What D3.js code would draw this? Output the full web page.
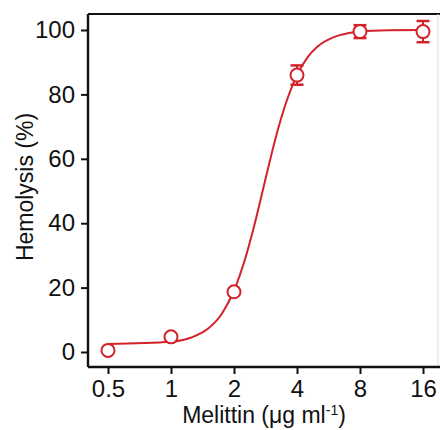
<!DOCTYPE html>
<meta charset="utf-8">
<script src="https://d3js.org/d3.v7.min.js"></script>
<head>
  <style>
  body {
    margin: 0;
    background: #fff;
    font-family: "Liberation Sans", Arial, Helvetica, sans-serif;
  }
  </style>
</head>
<html><body>
<div id="viz"></div>
<script>

const conc = [0.5, 1, 2, 4, 8, 16];
const hemolysis = [0.5, 4.7, 18.7, 86, 99.5, 99.5];
const errs = [0, 0, 0, 3, 2, 3.3];

const fitConc = [0.5, 1, 1.25, 1.5, 1.75, 2, 2.25, 2.5, 2.75, 3, 3.25, 3.5, 4, 4.5, 5, 6, 7, 8, 11, 16];
const fitVal  = [2.5, 3.2, 4.5, 7.2, 11.9, 19.1, 28.5, 39.3, 50.4, 60.6, 69.3, 76.3, 86.0, 91.6, 94.8, 97.8, 99.0, 99.5, 99.9, 100];

const xTicks = [0.5, 1, 2, 4, 8, 16];
const yTicks = [0, 20, 40, 60, 80, 100];

const red = "#d3222a";

const svg = d3.select("#viz")
  .append("svg")
    .attr("width", 440)
    .attr("height", 430);

// set the scales
const x = d3.scaleLog().base(2)
  .domain([0.5, 16])
  .range([108, 423]);

const y = d3.scaleLinear()
  .domain([0, 100])
  .range([352, 30]);

const frame = {left: 88, bottom: 367, top: 14, right: 438};

// frame
svg.append("line")
  .attr("x1", frame.left).attr("x2", 440)
  .attr("y1", frame.top).attr("y2", frame.top)
  .attr("stroke", "#111").attr("stroke-width", 2);
svg.append("line")
  .attr("x1", frame.right).attr("x2", frame.right)
  .attr("y1", frame.top).attr("y2", frame.bottom)
  .attr("stroke", "#ddd").attr("stroke-width", 1);

// Y axis
const yAxis = svg.append("g")
  .attr("transform", `translate(${frame.left}, 0)`)
  .call(d3.axisLeft(y).tickValues(yTicks).tickSize(7).tickPadding(6).tickSizeOuter(0));
yAxis.select(".domain").attr("d", `M0,${frame.top}V${frame.bottom}`);

// X axis
const xAxis = svg.append("g")
  .attr("transform", `translate(0, ${frame.bottom})`)
  .call(d3.axisBottom(x).tickValues(xTicks).tickFormat(d => d).tickSize(7).tickPadding(6).tickSizeOuter(0));
xAxis.select(".domain").attr("d", `M${frame.left},0H440`);

svg.selectAll(".domain").attr("stroke", "#111").attr("stroke-width", 2.4);
svg.selectAll(".tick line").attr("stroke", "#111").attr("stroke-width", 2);
svg.selectAll(".tick text")
  .attr("fill", "#111")
  .style("font-size", "24px")
  .style("font-family", "'Liberation Sans', Arial, sans-serif");

// fitted curve
svg.append("path")
  .datum(d3.zip(fitConc, fitVal))
  .attr("fill", "none")
  .attr("stroke", red)
  .attr("stroke-width", 2)
  .attr("d", d3.line()
    .x(d => x(d[0]))
    .y(d => y(d[1]))
    .curve(d3.curveMonotoneX));

// error bars
const pts = d3.zip(conc, hemolysis, errs);
const eb = svg.append("g");
pts.filter(d => d[2] > 0).forEach(d => {
  eb.append("line")
    .attr("x1", x(d[0])).attr("x2", x(d[0]))
    .attr("y1", y(d[1] - d[2])).attr("y2", y(d[1] + d[2]))
    .attr("stroke", red).attr("stroke-width", 2);
  [d[1] - d[2], d[1] + d[2]].forEach(v => {
    eb.append("line")
      .attr("x1", x(d[0]) - 6.5).attr("x2", x(d[0]) + 6.5)
      .attr("y1", y(v)).attr("y2", y(v))
      .attr("stroke", red).attr("stroke-width", 2.5);
  });
});

// points
svg.append("g")
  .selectAll("circle")
  .data(pts)
  .join("circle")
    .attr("cx", d => x(d[0]))
    .attr("cy", d => y(d[1]))
    .attr("r", 6.5)
    .attr("fill", "#fff")
    .attr("stroke", red)
    .attr("stroke-width", 2);

// labels
svg.append("text")
  .attr("text-anchor", "middle")
  .attr("x", -187)
  .attr("y", 33)
  .attr("transform", "rotate(-90)")
  .style("font-size", "23px")
  .attr("fill", "#111")
  .text("Hemolysis (%)");

const xl = svg.append("text")
  .attr("text-anchor", "middle")
  .attr("x", 264)
  .attr("y", 423)
  .style("font-size", "23px")
  .attr("fill", "#111");
xl.append("tspan").text("Melittin (μg ml");
xl.append("tspan").attr("dy", -8).style("font-size", "14px").text("-1");
xl.append("tspan").attr("dy", 8).text(")");

</script>
</body></html>
